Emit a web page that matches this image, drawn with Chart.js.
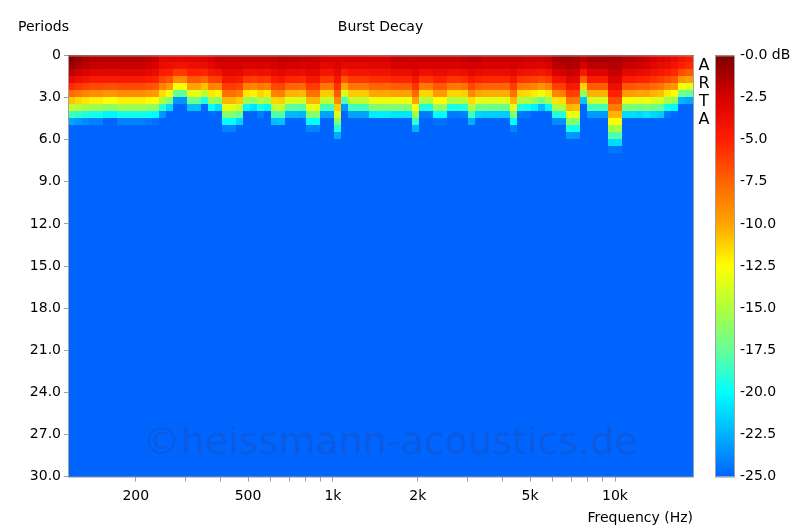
<!DOCTYPE html>
<html>
<head>
<meta charset="utf-8">
<script src="https://cdn.jsdelivr.net/npm/chart.js@4.4.1/dist/chart.umd.min.js"></script>
<style>
  html, body { margin: 0; padding: 0; background: #fff; }
  #wrap { width: 800px; height: 532px; }
</style>
</head>
<body>
<div id="wrap"><canvas id="decayChart"></canvas></div>
<script>
// frequency range of the plot (Hz), number of log-spaced columns
const freqMin = 115;
const freqMax = 18900;
// period (row) at which each column falls to the -25 dB floor, read per column left to right
const decayDepth = [
  5.0, 5.0, 5.0, 5.0, 5.0, 4.9, 4.9, 5.0, 5.0, 5.0, 5.0, 5.0, 5.0, 4.7, 4.4, 3.6,
  3.6, 4.3, 4.3, 4.0, 4.5, 4.3, 5.6, 5.6, 5.4, 4.4, 4.3, 4.5, 4.4, 5.3, 5.3, 4.7,
  4.7, 4.7, 5.6, 5.6, 4.7, 4.7, 6.4, 4.1, 4.7, 4.7, 4.7, 5.0, 5.0, 5.0,
  4.9, 4.9, 4.9, 5.8, 4.5, 4.5, 5.0, 5.0, 4.5, 4.5, 4.5, 5.2, 4.8, 4.8, 4.8, 4.8,
  4.8, 5.6, 4.5, 4.5, 4.4, 4.2, 4.4, 5.0, 5.0, 6.1, 6.1, 3.6, 4.5, 4.5, 4.5, 7.0,
  7.0, 4.8, 4.8, 4.8, 4.9, 4.9, 4.9, 4.6, 4.6, 3.8, 3.8
];
// level at period 0 for each column (dB)
const topLevel = [
  -0.3, -0.8, -1.2, -1.5, -1.5, -1.5, -1.5, -1.5, -1.5, -1.5, -1.5, -1.8, -2.0, -3.0, -3.0, -3.0,
  -3.0, -3.0, -3.0, -2.8, -2.5, -2.0, -2.0, -2.0, -2.0, -2.0, -2.0, -2.0, -2.0, -2.0, -1.8, -1.8,
  -1.8, -2.0, -2.0, -2.0, -2.5, -2.5, -2.5, -2.5, -2.5, -2.5, -2.5, -2.5, -2.5, -2.5, -2.0, -2.0,
  -2.0, -2.0, -2.0, -2.0, -2.0, -2.0, -2.0, -2.0, -1.8, -1.8, -1.8, -2.0, -2.0, -2.0, -2.0, -2.0,
  -2.0, -2.2, -2.2, -2.2, -2.0, -1.2, -1.0, -1.0, -1.2, -1.5, -1.0, -1.0, -1.0, -1.2, -1.2, -1.5,
  -1.5, -1.8, -2.0, -2.5, -2.8, -3.0, -3.5, -4.0, -4.5
];
const rowStep = 0.5;
const periodMax = 30;

const xMajorTicks = [200, 500, 1000, 2000, 5000, 10000];
const xTickLabels = ['200', '500', '1k', '2k', '5k', '10k'];
const xMinorTicks = [200, 300, 400, 500, 600, 700, 800, 900, 1000, 2000, 3000, 4000, 5000, 6000, 7000, 8000, 9000, 10000];

// colour map stops: dB -> rgb
const cmapDb = [-25, -20, -17.5, -15, -12.5, -10, -7.5, -5, -2.5, 0];
const cmapRgb = [
  [0, 100, 255], [0, 255, 255], [100, 255, 150], [175, 255, 60], [255, 255, 0],
  [255, 165, 0], [255, 100, 0], [255, 30, 0], [215, 0, 0], [125, 0, 0]
];

function colorFor(db) {
  if (db <= cmapDb[0]) return 'rgb(' + cmapRgb[0].join(',') + ')';
  for (let i = 1; i < cmapDb.length; i++) {
    if (db <= cmapDb[i]) {
      const t = (db - cmapDb[i - 1]) / (cmapDb[i] - cmapDb[i - 1]);
      const a = cmapRgb[i - 1], b = cmapRgb[i];
      return 'rgb(' + a.map((v, k) => Math.round(v + (b[k] - v) * t)).join(',') + ')';
    }
  }
  return 'rgb(' + cmapRgb[cmapRgb.length - 1].join(',') + ')';
}

function levelAt(col, period) {
  const r = period / decayDepth[col];
  const db = topLevel[col] - 25 * r * r;
  return Math.max(-25, db);
}

const heatmapPlugin = {
  id: 'heatmap',
  beforeDatasetsDraw(chart) {
    const { ctx, scales } = chart;
    const x = scales.x, y = scales.y;
    const n = decayDepth.length;
    const ratio = Math.pow(freqMax / freqMin, 1 / n);
    ctx.save();
    for (let c = 0; c < n; c++) {
      const f0 = freqMin * Math.pow(ratio, c);
      const f1 = f0 * ratio;
      const px0 = Math.floor(x.getPixelForValue(f0));
      const px1 = Math.ceil(x.getPixelForValue(f1));
      for (let p = 0; p < periodMax; p += rowStep) {
        const py0 = Math.floor(y.getPixelForValue(p));
        const py1 = Math.ceil(y.getPixelForValue(p + rowStep));
        ctx.fillStyle = colorFor(levelAt(c, p + rowStep / 2));
        ctx.fillRect(px0, py0, px1 - px0, py1 - py0);
      }
    }
    ctx.restore();
  },
  afterDraw(chart) {
    const { ctx, chartArea, scales } = chart;
    const cb = scales.cb;
    ctx.save();
    // colour bar
    const bx = chartArea.right + 22, bw = 19;
    const grad = ctx.createLinearGradient(0, cb.getPixelForValue(0), 0, cb.getPixelForValue(-25));
    cmapDb.forEach((d, i) => grad.addColorStop(-d / 25, 'rgb(' + cmapRgb[i].join(',') + ')'));
    ctx.fillStyle = grad;
    ctx.fillRect(bx, chartArea.top, bw, chartArea.bottom - chartArea.top);
    ctx.strokeStyle = '#a0a0a0';
    ctx.lineWidth = 1;
    ctx.strokeRect(bx + 0.5, chartArea.top + 0.5, bw, chartArea.bottom - chartArea.top);
    // plot frame
    ctx.strokeRect(chartArea.left + 0.5, chartArea.top + 0.5, chartArea.right - chartArea.left, chartArea.bottom - chartArea.top);
    // texts
    ctx.fillStyle = '#000';
    ctx.font = '14px "DejaVu Sans", sans-serif';
    ctx.textBaseline = 'middle';
    ctx.textAlign = 'center';
    ctx.fillText('Burst Decay', (chartArea.left + chartArea.right) / 2, 27);
    ctx.textAlign = 'left';
    ctx.fillText('Periods', 18, 27);
    ctx.font = '16px "DejaVu Sans", sans-serif';
    ctx.textAlign = 'center';
    ['A', 'R', 'T', 'A'].forEach((ch, i) => ctx.fillText(ch, chartArea.right + 11, chartArea.top + 10 + i * 18));
    // watermark
    ctx.font = '38px "DejaVu Sans", sans-serif';
    ctx.fillStyle = 'rgba(40, 70, 150, 0.3)';
    ctx.fillText('©heissmann-acoustics.de', 390, 444);
    ctx.restore();
  }
};

new Chart(document.getElementById('decayChart').getContext('2d'), {
  type: 'scatter',
  data: { datasets: [{ data: [], pointRadius: 0 }] },
  options: {
    responsive: true,
    maintainAspectRatio: false,
    animation: false,
    layout: { padding: { top: 46, right: 0, left: 0, bottom: 0 } },
    plugins: { legend: { display: false }, tooltip: { enabled: false } },
    scales: {
      x: {
        type: 'logarithmic',
        min: freqMin,
        max: freqMax,
        afterBuildTicks(scale) { scale.ticks = xMinorTicks.map(v => ({ value: v })); },
        ticks: {
          autoSkip: false,
          maxRotation: 0,
          color: '#000',
          font: { size: 14, family: 'DejaVu Sans' },
          padding: 6,
          callback(v) {
            const i = xMajorTicks.indexOf(v);
            return i >= 0 ? xTickLabels[i] : '';
          }
        },
        grid: { display: true, drawOnChartArea: false, tickLength: 5, color: '#a0a0a0' },
        border: { color: '#a0a0a0' },
        title: {
          display: true, text: 'Frequency (Hz)', align: 'end', color: '#000',
          font: { size: 14, family: 'DejaVu Sans' }, padding: { top: 0, bottom: 4 }
        }
      },
      y: {
        type: 'linear',
        reverse: true,
        min: 0,
        max: periodMax,
        afterFit(scale) { scale.width = 68; },
        ticks: {
          stepSize: 3,
          color: '#000',
          font: { size: 14, family: 'DejaVu Sans' },
          callback(v) { return v === 0 ? '0' : v.toFixed(1); }
        },
        grid: { display: true, drawOnChartArea: false, tickLength: 4, color: '#a0a0a0' },
        border: { color: '#a0a0a0' }
      },
      cb: {
        type: 'linear',
        position: 'right',
        min: -25,
        max: 0,
        afterFit(scale) { scale.width = 107; },
        ticks: {
          stepSize: 2.5,
          padding: 47,
          color: '#000',
          font: { size: 14, family: 'DejaVu Sans' },
          callback(v) { return v === 0 ? '-0.0 dB' : v.toFixed(1); }
        },
        grid: { display: false, drawTicks: false },
        border: { display: false }
      }
    }
  },
  plugins: [heatmapPlugin]
});
</script>
</body>
</html>
